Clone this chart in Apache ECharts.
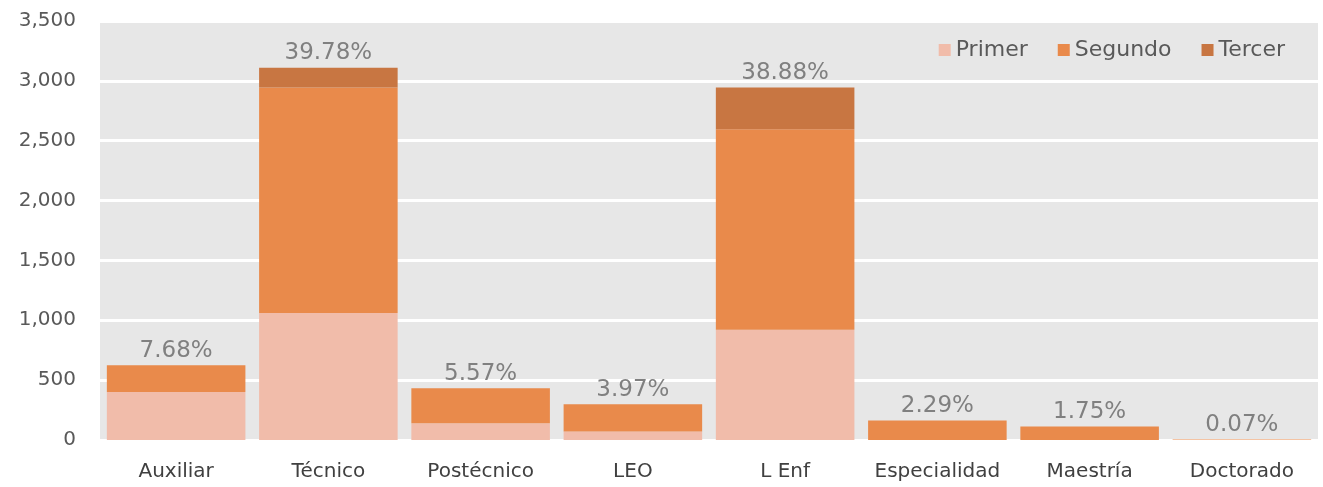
<!DOCTYPE html>
<html><head><meta charset="utf-8">
<script src="https://cdn.jsdelivr.net/npm/echarts@6/dist/echarts.min.js"></script>
<style>html,body{margin:0;padding:0;background:#fff}#c{width:1323px;height:487px}</style>
</head><body><div id="c"></div>
<script>
const categories = ['Auxiliar','Técnico','Postécnico','LEO','L Enf','Especialidad','Maestría','Doctorado'];
const primer  = [400, 1060, 140, 70, 920, 0, 0, 0];
const segundo = [225, 1885, 292, 228, 1675, 162, 112, 5];
const tercer  = [0, 165, 0, 0, 350, 0, 0, 0];
const percentLabels = ['7.68%','39.78%','5.57%','3.97%','38.88%','2.29%','1.75%','0.07%'];
const yTicks = [0,500,1000,1500,2000,2500,3000,3500];

const FONT = 'DejaVu Sans';
const chart = echarts.init(document.getElementById('c'), null, {renderer:'canvas'});
chart.setOption({
  animation:false,
  textStyle:{fontFamily:FONT},
  grid:{left:100,right:5,top:21,bottom:47,show:true,backgroundColor:'#e7e7e7',borderWidth:0},
  legend:{
    data:['Primer','Segundo','Tercer'],
    right:33, top:34, itemWidth:12, itemHeight:12, itemGap:30, icon:'rect',
    textStyle:{color:'#595959',fontSize:22,fontFamily:FONT}
  },
  xAxis:{
    type:'category', data:categories,
    axisLine:{show:false}, axisTick:{show:false},
    axisLabel:{color:'#404040',fontSize:20,margin:22,fontFamily:FONT,interval:0}
  },
  yAxis:{
    type:'value', min:0, max:3500, interval:500,
    axisLine:{show:false}, axisTick:{show:false},
    splitLine:{lineStyle:{color:'#ffffff',width:3}},
    axisLabel:{color:'#595959',fontSize:20,margin:24,fontFamily:FONT,
      formatter:v=>yTicks.includes(v)?v.toLocaleString('en-US'):''}
  },
  series:[
    {name:'Primer',type:'bar',stack:'t',data:primer,barCategoryGap:'9%',itemStyle:{color:'#f1bcaa'}},
    {name:'Segundo',type:'bar',stack:'t',data:segundo,itemStyle:{color:'#e98a4b'}},
    {name:'Tercer',type:'bar',stack:'t',data:tercer,itemStyle:{color:'#c87642'},
      label:{show:true,position:'top',distance:3,color:'#808080',fontSize:23,fontFamily:FONT,
        formatter:p=>percentLabels[p.dataIndex]}}
  ]
});
</script></body></html>
